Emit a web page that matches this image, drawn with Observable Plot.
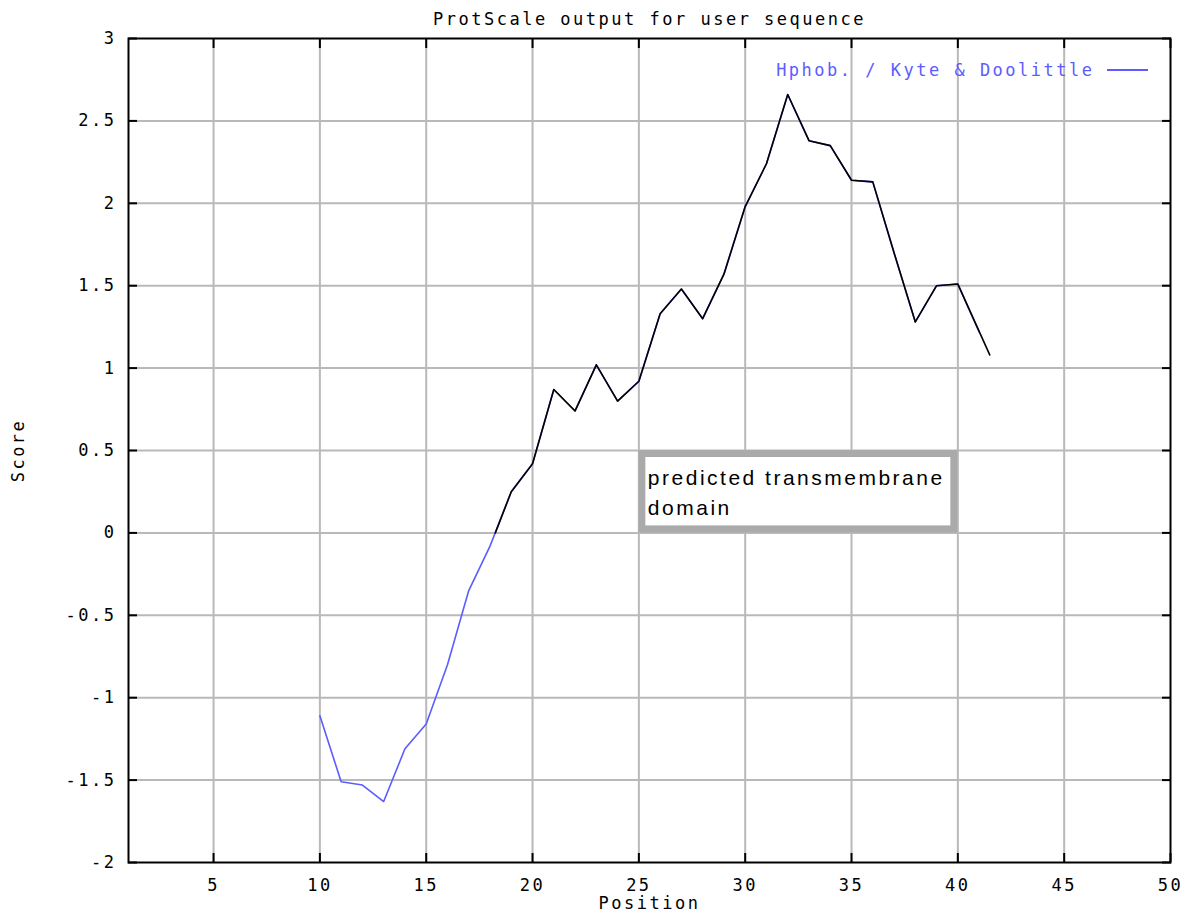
<!DOCTYPE html>
<html>
<head>
<meta charset="utf-8">
<script src="https://cdn.jsdelivr.net/npm/d3@7"></script>
<script src="https://cdn.jsdelivr.net/npm/@observablehq/plot@0.6"></script>
<style>
  html, body { margin: 0; padding: 0; background: #fff; }
  #chart svg { display: block; }
</style>
</head>
<body>
<div id="chart"></div>
<script>
// Kyte & Doolittle hydrophobicity (window scores) by residue position
const positions = [10, 11, 12, 13, 14, 15, 16, 17, 18, 19, 20, 21, 22, 23, 24, 25, 26, 27, 28, 29, 30, 31, 32, 33, 34, 35, 36, 37, 38, 39, 40, 41];
const scores    = [-1.11, -1.51, -1.53, -1.63, -1.31, -1.16, -0.80, -0.35, -0.08, 0.25, 0.42, 0.87, 0.74, 1.02, 0.80, 0.92, 1.33, 1.48, 1.30, 1.57, 1.98, 2.24, 2.66, 2.38, 2.35, 2.14, 2.13, 1.70, 1.28, 1.50, 1.51, 1.22];

// hand-drawn highlight of the predicted transmembrane domain
const tmPositions = [18.25, 19, 20, 21, 22, 23, 24, 25, 26, 27, 28, 29, 30, 31, 32, 33, 34, 35, 36, 37, 38, 39, 40, 41.5];
const tmScores    = [0.00, 0.25, 0.42, 0.87, 0.74, 1.02, 0.80, 0.92, 1.33, 1.48, 1.30, 1.57, 1.98, 2.24, 2.66, 2.38, 2.35, 2.14, 2.13, 1.70, 1.28, 1.50, 1.51, 1.08];

// annotation box (data coordinates)
const noteBox  = [{x1: 25, x2: 40, y1: 0, y2: 0.5}];
const noteText = "predicted transmembrane\ndomain";

const xTicks = [5, 10, 15, 20, 25, 30, 35, 40, 45, 50];
const yTicks = [-2, -1.5, -1, -0.5, 0, 0.5, 1, 1.5, 2, 2.5, 3];
const xGrid = [5, 10, 15, 20, 25, 30, 35, 40, 45];
const yGrid = [-1.5, -1, -0.5, 0, 0.5, 1, 1.5, 2, 2.5];

const title = "ProtScale output for user sequence";
const xLabel = "Position";
const yLabel = "Score";
const legendLabel = "Hphob. / Kyte & Doolittle";

const blue = "#5c5cff";
const mono = "'DejaVu Sans Mono', 'Liberation Mono', monospace";
const line = positions.map((p, i) => ({x: p, y: scores[i]}));
const tm = tmPositions.map((p, i) => ({x: p, y: tmScores[i]}));

const fmt = d => String(d);

const chart = Plot.plot({
  width: 1188,
  height: 913,
  marginLeft: 128,
  marginRight: 18,
  marginTop: 38,
  marginBottom: 51,
  style: {fontFamily: mono, fontSize: "17px", letterSpacing: "2.5px", background: "#fff", color: "#000"},
  x: {domain: [1, 50], axis: null},
  y: {domain: [-2, 3], axis: null},
  marks: [
    Plot.ruleX(xGrid, {stroke: "#b9b9b9", strokeWidth: 2}),
    Plot.ruleY(yGrid, {stroke: "#b9b9b9", strokeWidth: 2}),
    // inward tick marks on all four sides
    Plot.axisX(xTicks, {anchor: "bottom", tickSize: 9, dy: -9, tickFormat: () => "", strokeWidth: 2, label: null}),
    Plot.axisX(xTicks, {anchor: "top", tickSize: 9, dy: 9, tickFormat: () => "", strokeWidth: 2, label: null}),
    Plot.axisY(yTicks, {anchor: "left", tickSize: 9, dx: 9, tickFormat: () => "", strokeWidth: 2, label: null}),
    Plot.axisY(yTicks, {anchor: "right", tickSize: 9, dx: -9, tickFormat: () => "", strokeWidth: 2, label: null}),
    // tick labels
    Plot.axisX(xTicks, {anchor: "bottom", tickSize: 0, tickPadding: 16, tickFormat: fmt, label: null, fontSize: 17}),
    Plot.axisY(yTicks, {anchor: "left", tickSize: 0, tickPadding: 12, tickFormat: fmt, label: null, fontSize: 17}),
    Plot.frame({stroke: "#000", strokeWidth: 2}),
    // annotation box
    Plot.rect(noteBox, {x1: "x1", x2: "x2", y1: "y1", y2: "y2", fill: "#aaaaaa"}),
    Plot.rect(noteBox, {x1: "x1", x2: "x2", y1: "y1", y2: "y2", fill: "#fff", inset: 7}),
    Plot.text(noteBox, {x: "x1", y: "y2", text: () => noteText, textAnchor: "start", lineAnchor: "top", dx: 9, dy: 14,
      fontFamily: "'Liberation Sans', Arial, sans-serif", fontSize: 21, letterSpacing: "-1px", lineHeight: 1.4, fill: "#000"}),
    // data lines
    Plot.line(line, {x: "x", y: "y", stroke: blue, strokeWidth: 1.6}),
    Plot.line(tm, {x: "x", y: "y", stroke: "#000", strokeWidth: 1.6}),
    // titles
    Plot.text([title], {frameAnchor: "top", dy: -26, text: d => d, fill: "#000"}),
    Plot.text([xLabel], {frameAnchor: "bottom", dy: 46, text: d => d, fill: "#000"}),
    Plot.text([yLabel], {frameAnchor: "left", textAnchor: "middle", dx: -110, rotate: -90, text: d => d, fill: "#000"}),
    // legend
    Plot.text([legendLabel], {frameAnchor: "top-right", dx: -76, dy: 32, lineAnchor: "middle", textAnchor: "end", letterSpacing: "3px", text: d => d, fill: blue})
  ]
});

// legend swatch line
const svg = d3.select(chart);
svg.append("line")
  .attr("x1", 1107).attr("x2", 1148)
  .attr("y1", 70).attr("y2", 70)
  .attr("stroke", blue).attr("stroke-width", 2);

document.getElementById("chart").appendChild(chart);
</script>
</body>
</html>
